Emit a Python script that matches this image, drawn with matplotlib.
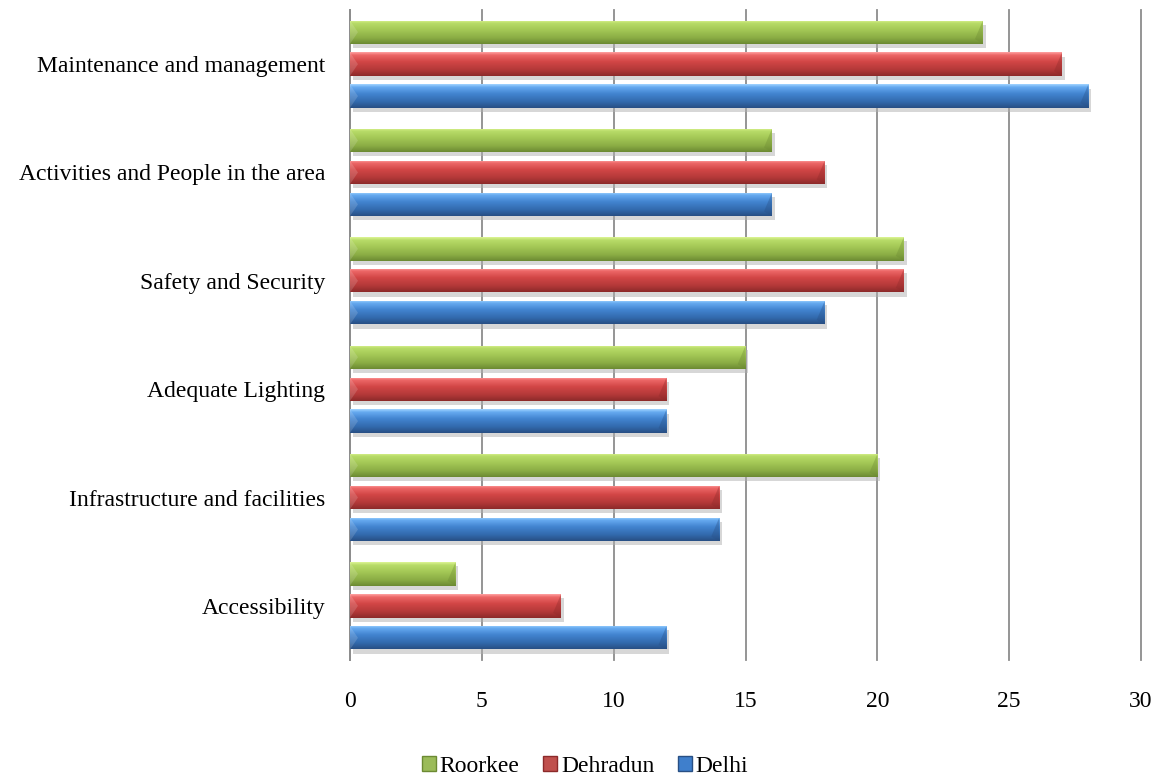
import numpy as np
import matplotlib.pyplot as plt
import matplotlib.patheffects as pe
from matplotlib.colors import LinearSegmentedColormap
from matplotlib.patches import Patch, Polygon

plt.rcParams['font.family'] = ['Liberation Serif', 'DejaVu Serif']

categories = ["Accessibility", "Infrastructure and facilities", "Adequate Lighting",
              "Safety and Security", "Activities and People in the area",
              "Maintenance and management"]
series_names = ["Roorkee", "Dehradun", "Delhi"]
roorkee = [4, 20, 15, 21, 16, 24]
dehradun = [8, 14, 12, 21, 18, 27]
delhi = [12, 14, 12, 18, 16, 28]

# top-to-bottom shading of each bar
shades = {
    "Roorkee": ["#dcf494", "#b8dc68", "#a4c856", "#8aac44", "#6c8a33"],
    "Dehradun": ["#ffa0a0", "#ec6666", "#d24646", "#b23838", "#8c2a2a"],
    "Delhi": ["#a0d4ff", "#66aaf0", "#4284d0", "#3269ac", "#284f84"],
}
base = {"Roorkee": "#9bbb59", "Dehradun": "#c0504d", "Delhi": "#3f7fcc"}
edge = {"Roorkee": "#6c8a33", "Dehradun": "#8c2a2a", "Delhi": "#284f84"}

fig = plt.figure(figsize=(11.61, 7.79), dpi=100)
ax = fig.add_axes([0.3015, 0.1527, 0.6813, 0.8345])

y = np.arange(len(categories))
step = 0.295
h = 0.215
offsets = [step, 0, -step]
grad = np.linspace(0, 1, 64).reshape(-1, 1)

for name, vals, off in zip(series_names, [roorkee, dehradun, delhi], offsets):
    bars = ax.barh(y + off, vals, height=h, color=base[name], zorder=3,
                   edgecolor="none",
                   path_effects=[pe.SimplePatchShadow(offset=(2, -3), shadow_rgbFace="#b0b0b0", alpha=0.5),
                                 pe.Normal()])
    cmap = LinearSegmentedColormap.from_list(name, list(zip([0, 0.12, 0.4, 0.75, 1.0], shades[name])))
    for b in bars:
        x0, y0, w, hh = b.get_x(), b.get_y(), b.get_width(), b.get_height()
        im = ax.imshow(grad, cmap=cmap, aspect="auto", origin="upper",
                       extent=(x0, x0 + w, y0, y0 + hh), zorder=4)
        im.set_clip_path(b)
        # bevelled ends
        bev = 0.3
        ax.add_patch(Polygon([(x0 + w - bev, y0 + hh * 0.2), (x0 + w, y0 + hh), (x0 + w, y0)],
                             closed=True, facecolor=edge[name], alpha=0.35, edgecolor="none", zorder=5))
        ax.add_patch(Polygon([(x0, y0), (x0, y0 + hh), (x0 + bev, y0 + hh * 0.5)],
                             closed=True, facecolor="white", alpha=0.15, edgecolor="none", zorder=5))

ax.set_xlim(0, 30)
ax.set_ylim(-0.5, len(categories) - 0.5)
ax.set_xticks(range(0, 31, 5))
ax.set_yticks(y)
ax.set_yticklabels(categories)
ax.tick_params(axis="both", length=0, labelsize=17)
ax.tick_params(axis="x", pad=22)
ax.tick_params(axis="y", pad=18)
ax.xaxis.grid(True, color="#8c8c8c", linewidth=1.3, zorder=0)
for gl in ax.get_xgridlines():
    gl.set_clip_on(False)
ax.set_axisbelow(True)
for s in ["top", "right", "bottom"]:
    ax.spines[s].set_visible(False)
ax.spines["left"].set_color("#8c8c8c")
ax.spines["left"].set_linewidth(1.3)

handles = [Patch(facecolor=base[n], edgecolor=edge[n], label=n) for n in series_names]
fig.legend(handles=handles, loc="center", bbox_to_anchor=(0.504, 0.016), ncol=3,
           frameon=False, fontsize=17, handlelength=0.6, handleheight=0.6,
           handletextpad=0.15, columnspacing=1.0)

fig.savefig("out.png", dpi=100)
